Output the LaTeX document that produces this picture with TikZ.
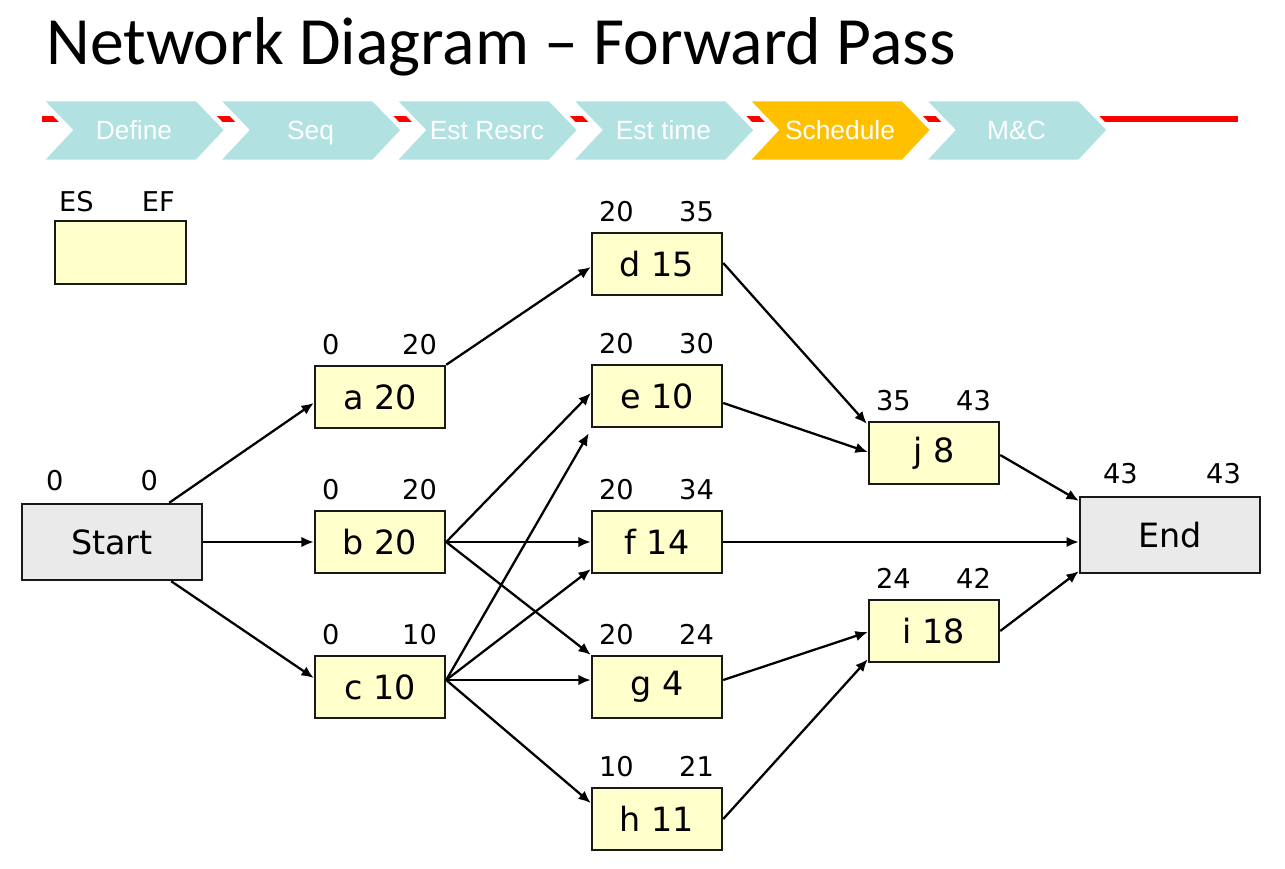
\documentclass[tikz,border=0pt]{standalone}
\usepackage{fontspec}
\setmainfont{DejaVu Sans}
\newfontfamily\titlefont{Carlito}
\newfontfamily\chevfont{Liberation Sans}
\usetikzlibrary{arrows.meta,calc}
\definecolor{netYellow}{RGB}{255,255,204}
\definecolor{netGray}{RGB}{234,234,234}
\definecolor{netTeal}{RGB}{178,225,226}
\definecolor{netGold}{RGB}{255,192,0}
\definecolor{netRed}{RGB}{255,0,0}

\begin{document}
\begin{tikzpicture}[
    x=0.02cm, y=-0.02cm,
    actbox/.style={draw=black!90, line width=1.4pt, fill=netYellow, inner sep=0pt, minimum width=2.6cm, minimum height=1.24cm, font=\fontsize{19}{19}\selectfont},
    endbox/.style={actbox, fill=netGray, minimum width=3.6cm, minimum height=1.52cm},
    num/.style={inner sep=0pt, font=\fontsize{15.5}{15.5}\selectfont},
    chev/.style={draw=white, line width=2.6pt, fill=netTeal},
    chevtext/.style={text=white, inner sep=0pt, anchor=base, font=\chevfont\fontsize{15}{15}\selectfont},
    arrow/.style={-{Latex[length=7pt,width=6pt]}, line width=1.3pt}
  ]
    \useasboundingbox (0,0) rectangle (1285,869);
    \node[anchor=base west, inner sep=0pt, font=\titlefont\fontsize{38.5}{38.5}\selectfont] (title) at (46,64) {Network Diagram – Forward Pass};

    % process bar
    \draw[netRed, line width=3.8pt] (42,119) -- (1238,119);
    \foreach \i/\txt/\col in {0/Define/netTeal, 1/Seq/netTeal, 2/Est Resrc/netTeal, 3/Est time/netTeal, 4/Schedule/netGold, 5/M\&C/netTeal} {
      \pgfmathsetmacro\xo{40+176.5*\i}
      \draw[chev, fill=\col] (\xo,99) -- ++(157,0) -- ++(30,31) -- ++(-30,32) -- ++(-157,0) -- ++(30,-32) -- cycle;
      \node[chevtext] (chev\i) at (\xo+94,139) {\txt};
    }

    % legend
    \node[actbox, minimum width=2.62cm, minimum height=1.26cm] (key) at (120.5,252.5) {};
    \node[num, anchor=base west] (key-es) at ($(key.north west)+(5,-8)$) {ES};
    \node[num, anchor=base east] (key-ef) at ($(key.north east)+(-12,-8)$) {EF};

    % activities
    \node[endbox] (start) at (112,542) {Start};
    \node[actbox] (a) at (380,397) {a 20};
    \node[actbox] (b) at (380,542) {b 20};
    \node[actbox] (c) at (380,687) {c 10};
    \node[actbox] (d) at (657,264) {d 15};
    \node[actbox] (e) at (657,396) {e 10};
    \node[actbox] (f) at (657,542) {f 14};
    \node[actbox] (g) at (657,687) {g 4};
    \node[actbox] (h) at (657,819) {h 11};
    \node[actbox] (j) at (934,453) {j 8};
    \node[actbox] (i) at (934,631) {i 18};
    \node[endbox] (end) at (1170,535) {End};

    \foreach \n/\es/\ef in {a/0/20, b/0/20, c/0/10, d/20/35, e/20/30, f/20/34, g/20/24, h/10/21, j/35/43, i/24/42} {
      \node[num, anchor=base west] (\n-es) at ($(\n.north west)+(8,-10)$) {\es};
      \node[num, anchor=base east] (\n-ef) at ($(\n.north east)+(-9,-10)$) {\ef};
    }
    \node[num, anchor=base west] (start-es) at ($(start.north west)+(25,-12)$) {0};
    \node[num, anchor=base east] (start-ef) at ($(start.north east)+(-45,-12)$) {0};
    \node[num, anchor=base west] (end-es) at ($(end.north west)+(24,-12)$) {43};
    \node[num, anchor=base east] (end-ef) at ($(end.north east)+(-20,-12)$) {43};

    % dependencies
    \coordinate (c-out) at ($(c.east)+(0,-7)$);
    \draw[arrow] ($(start.north east)+(-34,0)$) -- ($(a.west)+(0,6)$);
    \draw[arrow] (start.east) -- (b.west);
    \draw[arrow] ($(start.south east)+(-32,0)$) -- ($(c.west)+(0,-9)$);
    \draw[arrow] (a.north east) -- ($(d.west)+(0,3)$);
    \draw[arrow] (b.east) -- ($(e.west)+(0,-3)$);
    \draw[arrow] (b.east) -- (f.west);
    \draw[arrow] (b.east) -- (g.north west);
    \draw[arrow] (c-out) -- ($(e.south west)+(-2,5)$);
    \draw[arrow] (c-out) -- ($(f.south west)+(0,-5)$);
    \draw[arrow] (c-out) -- ($(g.west)+(0,-7)$);
    \draw[arrow] (c-out) -- ($(h.west)+(0,-16)$);
    \draw[arrow] ($(d.east)+(0,-1)$) -- ($(j.north west)+(-1,3)$);
    \draw[arrow] ($(e.east)+(0,7)$) -- ($(j.west)+(0,-1)$);
    \draw[arrow] (f.east) -- ($(end.west)+(0,7)$);
    \draw[arrow] ($(g.east)+(0,-7)$) -- ($(i.west)+(0,1)$);
    \draw[arrow] (h.east) -- ($(i.south west)+(0,-4)$);
    \draw[arrow] ($(j.east)+(0,2)$) -- ($(end.north west)+(0,5)$);
    \draw[arrow] (i.east) -- ($(end.south west)+(0,-3)$);
  \end{tikzpicture}
\end{document}
